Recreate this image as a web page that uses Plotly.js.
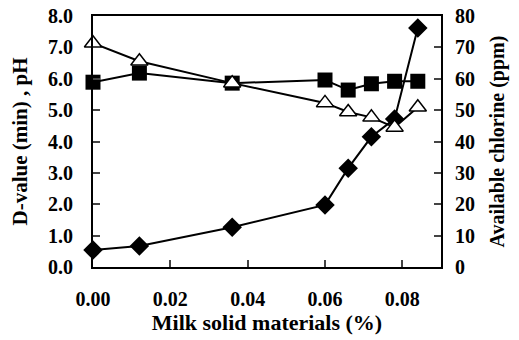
<!DOCTYPE html>
<html><head><meta charset="utf-8">
<script src="https://cdn.plot.ly/plotly-3.0.1.min.js"></script>
<style>html,body{margin:0;padding:0;background:#fff}#c{width:519px;height:340px}</style>
</head><body><div id="c"></div>
<script>
const milk = [0.000, 0.012, 0.036, 0.060, 0.066, 0.072, 0.078, 0.084];
const dValue = [0.54, 0.67, 1.27, 1.98, 3.15, 4.15, 4.72, 7.62];
const pH = [5.89, 6.18, 5.86, 5.96, 5.64, 5.84, 5.92, 5.92];
const chlorine = [71.3, 65.6, 58.6, 52.3, 49.4, 47.7, 44.5, 50.9];
const leftTicks = [0,1,2,3,4,5,6,7,8];
const leftTickText = ['0.0','1.0','2.0','3.0','4.0','5.0','6.0','7.0','8.0'];
const rightTicks = [0,10,20,30,40,50,60,70,80];
const xTicks = [0,0.02,0.04,0.06,0.08];
const xTickText = ['0.00','0.02','0.04','0.06','0.08'];

const F = 'Liberation Serif, Times New Roman, serif';
const traces = [
  {x: milk, y: dValue, mode:'lines+markers', line:{color:'#000', width:2},
   marker:{symbol:'diamond', size:15, color:'#000'}, cliponaxis:false},
  {x: milk, y: pH, mode:'lines+markers', line:{color:'#000', width:2},
   marker:{symbol:'square', size:15, color:'#000'}, cliponaxis:false},
  {x: milk, y: chlorine, yaxis:'y2', mode:'lines+markers', line:{color:'#000', width:2},
   marker:{symbol:'triangle-up', size:15, color:'#fff', line:{color:'#000', width:1.5}}, cliponaxis:false}
];
const layout = {
  width:519, height:340, showlegend:false,
  paper_bgcolor:'#fff', plot_bgcolor:'#fff',
  margin:{l:93, r:78, t:16, b:73},
  font:{family:F, color:'#000', size:18},
  xaxis:{range:[0,0.09], tickvals:xTicks, ticktext:xTickText, ticks:'inside', ticklen:7, tickwidth:2,
    showline:true, linewidth:2, linecolor:'#000', mirror:true, showgrid:false, zeroline:false,
    tickfont:{family:F, size:20, weight:'bold'}, ticklabelstandoff:13,
    title:{text:'<b>Milk solid materials (%)</b>', font:{family:F, size:22}, standoff:6}},
  yaxis:{range:[0,8], tickvals:leftTicks, ticktext:leftTickText, ticks:'inside', ticklen:7, tickwidth:2,
    showline:true, linewidth:2, linecolor:'#000', showgrid:false, zeroline:false,
    tickfont:{family:F, size:20, weight:'bold'}, ticklabelstandoff:14,
    title:{text:'<b>D-value (min) , pH</b>', font:{family:F, size:21}, standoff:15}},
  yaxis2:{range:[0,80], tickvals:rightTicks, overlaying:'y', side:'right', ticks:'inside', ticklen:7, tickwidth:2,
    showline:true, linewidth:2, linecolor:'#000', showgrid:false, zeroline:false,
    tickfont:{family:F, size:20, weight:'bold'}, ticklabelstandoff:8,
    title:{text:'<b>Available chlorine (ppm)</b>', font:{family:F, size:20}, standoff:16}}
};
Plotly.newPlot('c', traces, layout, {staticPlot:true, displayModeBar:false});
</script></body></html>
